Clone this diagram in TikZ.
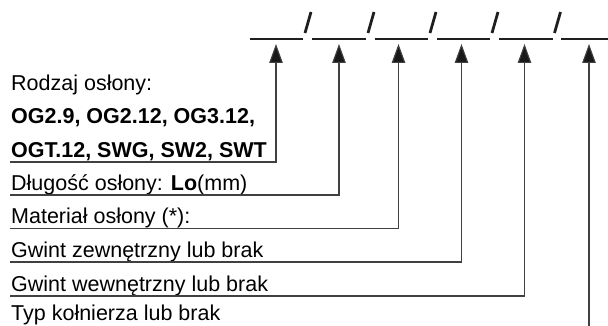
\documentclass[tikz,border=0pt]{standalone}
\usepackage{fontspec}
\setmainfont{Liberation Sans}
\usetikzlibrary{arrows.meta}
\begin{document}
\begin{tikzpicture}[x=1pt,y=-1pt,
  lbl/.style={anchor=base west,inner sep=0pt,font=\fontsize{21.5}{25}\selectfont,text=black},
  conn/.style={draw=black!75,line width=1.1pt,-{Triangle[length=19pt,width=13.5pt,fill=black!90]}},
  blank/.style={draw=black!88,line width=2.8pt},
  slash/.style={draw=black!88,line width=2.8pt}]
\useasboundingbox (0,0) rectangle (608,326);
% blanks and slashes
\draw[blank] (250,39) -- (303,39);
\draw[slash] (305,33) -- (311,12);
\draw[blank] (312,39) -- (366,39);
\draw[slash] (368,33) -- (374,12);
\draw[blank] (374.5,39) -- (428,39);
\draw[slash] (430,33) -- (436,12);
\draw[blank] (437,39) -- (490,39);
\draw[slash] (492,33) -- (498,12);
\draw[blank] (499,39) -- (553,39);
\draw[slash] (554.5,33) -- (560.5,12);
\draw[blank] (561,39) -- (608,39);
% labels
\node[lbl] (t1) at (11,90.5) {Rodzaj osłony:};
\node[lbl] (t2) at (11,124) {\bfseries OG2.9, OG2.12, OG3.12,};
\node[lbl] (t3) at (11,157.5) {\bfseries OGT.12, SWG, SW2, SWT};
\node[lbl] (t4) at (11,190.5) {Długość osłony: \textbf{Lo}(mm)};
\node[lbl] (t5) at (11,223.5) {Materiał osłony (*):};
\node[lbl] (t6) at (11,257.5) {Gwint zewnętrzny lub brak};
\node[lbl] (t7) at (11,291.5) {Gwint wewnętrzny lub brak};
\node[lbl] (t8) at (11,320.5) {Typ kołnierza lub brak};
% arrow targets
\coordinate (a1) at (276,44);
\coordinate (a2) at (339,44);
\coordinate (a3) at (398.5,44);
\coordinate (a4) at (461.5,44);
\coordinate (a5) at (524.5,44);
\coordinate (a6) at (589,44);
% leader starts
\coordinate (s1) at (10,162);
\coordinate (s2) at (10,195);
\coordinate (s3) at (10,228.5);
\coordinate (s4) at (10,262);
\coordinate (s5) at (10,296);
\coordinate (s6) at (589,340);
\draw[conn] (s1) -| (a1);
\draw[conn] (s2) -| (a2);
\draw[conn] (s3) -| (a3);
\draw[conn] (s4) -| (a4);
\draw[conn] (s5) -| (a5);
\draw[conn] (s6) -- (a6);
\end{tikzpicture}
\end{document}
